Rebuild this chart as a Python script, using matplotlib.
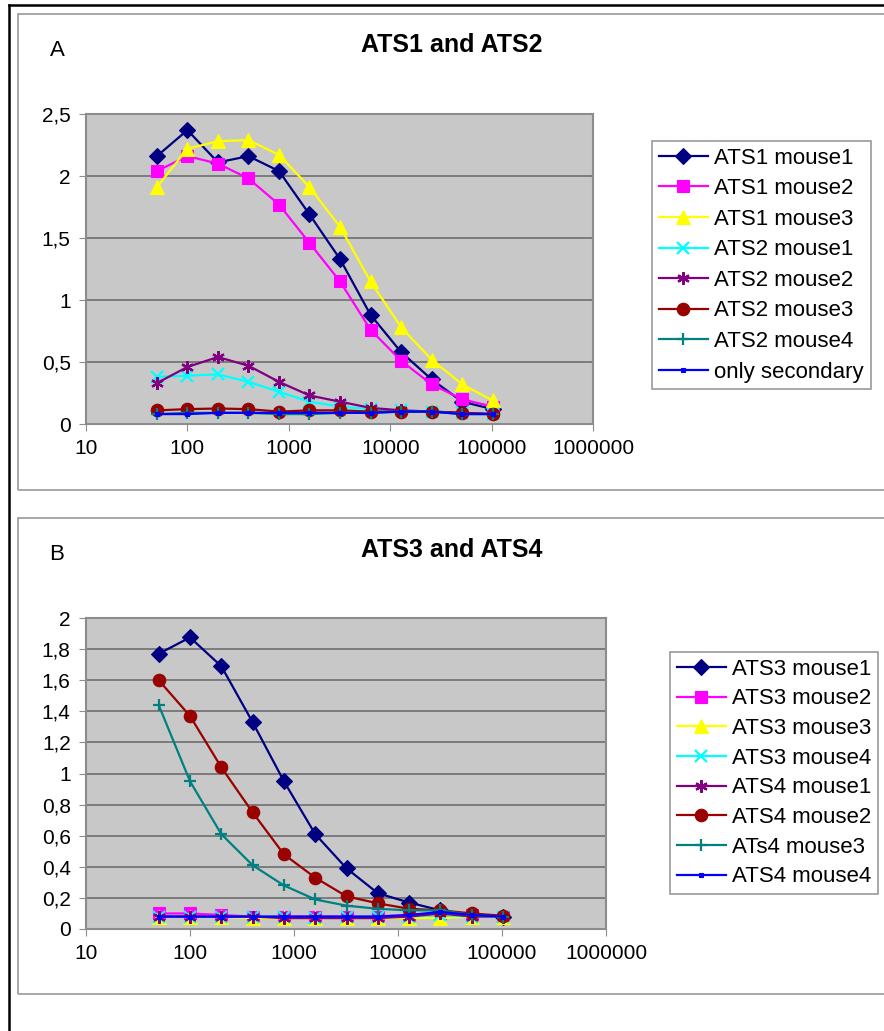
import matplotlib.pyplot as plt
from matplotlib.lines import Line2D
from matplotlib.patches import Rectangle

plt.rcParams['font.family'] = ['Liberation Sans', 'DejaVu Sans']

dilution = [50, 100, 200, 400, 800, 1600, 3200, 6400, 12800, 25600, 51200, 102400]

# panel A
ats1_mouse1 = [2.16, 2.37, 2.11, 2.16, 2.04, 1.69, 1.33, 0.88, 0.58, 0.36, 0.18, 0.12]
ats1_mouse2 = [2.04, 2.16, 2.10, 1.98, 1.77, 1.46, 1.15, 0.76, 0.51, 0.32, 0.20, 0.14]
ats1_mouse3 = [1.91, 2.22, 2.28, 2.29, 2.17, 1.91, 1.59, 1.15, 0.78, 0.52, 0.32, 0.19]
ats2_mouse1 = [0.38, 0.39, 0.40, 0.34, 0.26, 0.18, 0.14, 0.12, 0.11, 0.10, 0.09, 0.08]
ats2_mouse2 = [0.33, 0.46, 0.54, 0.47, 0.34, 0.23, 0.18, 0.13, 0.11, 0.10, 0.09, 0.08]
ats2_mouse3 = [0.11, 0.12, 0.125, 0.12, 0.10, 0.11, 0.11, 0.10, 0.10, 0.10, 0.09, 0.08]
ats2_mouse4 = [0.08, 0.09, 0.09, 0.09, 0.08, 0.08, 0.09, 0.09, 0.10, 0.10, 0.08, 0.08]
only_secondary = [0.08, 0.08, 0.09, 0.09, 0.09, 0.09, 0.09, 0.09, 0.10, 0.10, 0.08, 0.08]

# panel B
ats3_mouse1 = [1.77, 1.875, 1.69, 1.33, 0.95, 0.61, 0.39, 0.23, 0.17, 0.12, 0.09, 0.08]
ats3_mouse2 = [0.10, 0.10, 0.09, 0.08, 0.08, 0.08, 0.08, 0.08, 0.09, 0.10, 0.09, 0.08]
ats3_mouse3 = [0.08, 0.08, 0.08, 0.07, 0.07, 0.07, 0.07, 0.07, 0.07, 0.07, 0.08, 0.08]
ats3_mouse4 = [0.08, 0.08, 0.08, 0.08, 0.08, 0.07, 0.08, 0.08, 0.08, 0.09, 0.08, 0.08]
ats4_mouse1 = [0.08, 0.08, 0.08, 0.08, 0.07, 0.07, 0.07, 0.07, 0.08, 0.10, 0.08, 0.08]
ats4_mouse2 = [1.60, 1.37, 1.04, 0.75, 0.48, 0.33, 0.21, 0.165, 0.13, 0.12, 0.10, 0.085]
ats4_mouse3 = [1.44, 0.95, 0.61, 0.41, 0.28, 0.19, 0.15, 0.13, 0.12, 0.12, 0.09, 0.08]
ats4_mouse4 = [0.08, 0.08, 0.08, 0.08, 0.08, 0.08, 0.08, 0.08, 0.09, 0.11, 0.09, 0.08]

labels_a = ["ATS1 mouse1", "ATS1 mouse2", "ATS1 mouse3", "ATS2 mouse1",
            "ATS2 mouse2", "ATS2 mouse3", "ATS2 mouse4", "only secondary"]
labels_b = ["ATS3 mouse1", "ATS3 mouse2", "ATS3 mouse3", "ATS3 mouse4",
            "ATS4 mouse1", "ATS4 mouse2", "ATs4 mouse3", "ATS4 mouse4"]

# excel-like series styles (colour, marker, size)
styles = [("#000080", "D", 8), ("#FF00FF", "s", 9), ("#FFFF00", "^", 9.5),
          ("#00FFFF", "x", 8), ("#800080", (6, 2, 0), 9), ("#990000", "o", 9),
          ("#008080", "+", 9), ("#0000FF", "s", 3.5)]

W, H = 884, 1031
fig = plt.figure(figsize=(W / 100, H / 100), dpi=100)


def px_axes(left, top, right, bottom):
    return fig.add_axes([left / W, 1 - bottom / H, (right - left) / W, (bottom - top) / H])


def draw_panel(ax, series, labels, ymax, ystep, yfmt):
    for ys, lab, (c, m, ms) in zip(series, labels, styles):
        ax.plot(dilution, ys, color=c, marker=m, markersize=ms, linewidth=1.6,
                markeredgewidth=1.6 if m in ("x", "+") or isinstance(m, tuple) else 0.8,
                markeredgecolor=c, label=lab)
    ax.set_xscale('log')
    ax.set_xlim(10, 1000000)
    ax.set_ylim(0, ymax)
    ax.set_facecolor("#C8C8C8")
    n = int(round(ymax / ystep))
    ticks = [i * ystep for i in range(n + 1)]
    ax.set_yticks(ticks)
    ax.set_yticklabels([yfmt(t) for t in ticks])
    ax.set_xticks([10, 100, 1000, 10000, 100000, 1000000])
    ax.set_xticklabels(["10", "100", "1000", "10000", "100000", "1000000"])
    ax.minorticks_off()
    ax.grid(True, axis='y', color="#6E6E6E", linewidth=1.2)
    ax.set_axisbelow(True)
    for s in ax.spines.values():
        s.set_color("#8C8C8C")
        s.set_linewidth(1.5)
    ax.tick_params(direction='out', length=5, color="#8C8C8C", labelsize=15, pad=6)


def fmt_a(v):
    return ("%g" % v).replace(".", ",")


ax1 = px_axes(86, 114, 593, 424)
draw_panel(ax1, [ats1_mouse1, ats1_mouse2, ats1_mouse3, ats2_mouse1,
                 ats2_mouse2, ats2_mouse3, ats2_mouse4, only_secondary],
           labels_a, 2.5, 0.5, fmt_a)

ax2 = px_axes(86, 618, 606, 929)
draw_panel(ax2, [ats3_mouse1, ats3_mouse2, ats3_mouse3, ats3_mouse4,
                 ats4_mouse1, ats4_mouse2, ats4_mouse3, ats4_mouse4],
           labels_b, 2.0, 0.2, fmt_a)

for ax, (lx, ly), spacing in ((ax1, (652, 141), 0.43), (ax2, (670, 652), 0.39)):
    h, l = ax.get_legend_handles_labels()
    leg = fig.legend(h, l, loc='upper left', bbox_to_anchor=(lx / W, 1 - ly / H),
                     frameon=True, fancybox=False, fontsize=16, handlelength=2.2,
                     handletextpad=0.3, labelspacing=spacing, borderpad=0.3,
                     borderaxespad=0, edgecolor="#808080")
    leg.get_frame().set_linewidth(1.2)

fig.text(452 / W, 1 - 45 / H, "ATS1 and ATS2", ha='center', va='center',
         fontsize=18, fontweight='bold')
fig.text(452 / W, 1 - 550 / H, "ATS3 and ATS4", ha='center', va='center',
         fontsize=18, fontweight='bold')
fig.text(57 / W, 1 - 50 / H, "A", ha='center', va='center', fontsize=16)
fig.text(57 / W, 1 - 555 / H, "B", ha='center', va='center', fontsize=16)

# panel boxes and outer frame
for top, bottom in ((14, 490), (518, 994)):
    fig.patches.append(Rectangle((18 / W, 1 - bottom / H), 1.0, (bottom - top) / H,
                                 transform=fig.transFigure, fill=False,
                                 edgecolor="#A0A0A0", linewidth=1.3))
fig.lines.append(Line2D([9 / W, 9 / W], [0, 1 - 4.5 / H], transform=fig.transFigure,
                        color="black", linewidth=1.8))
fig.lines.append(Line2D([9 / W, 1], [1 - 4.5 / H, 1 - 4.5 / H], transform=fig.transFigure,
                        color="black", linewidth=1.8))

fig.savefig("out.png", dpi=100)
